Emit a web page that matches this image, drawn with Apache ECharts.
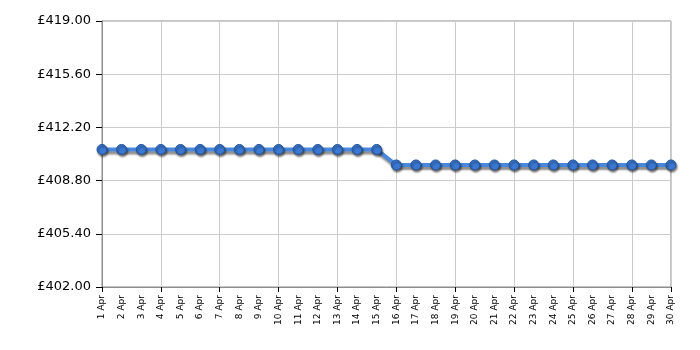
<!DOCTYPE html>
<html>
<head>
<meta charset="utf-8">
<script src="https://cdn.jsdelivr.net/npm/echarts@6/dist/echarts.min.js"></script>
<style>
  html, body { margin: 0; padding: 0; background: #fff; }
</style>
</head>
<body>
<div id="chart" style="width: 700px; height: 350px;"></div>
<script>
// days of April
const days = [
  '1 Apr', '2 Apr', '3 Apr', '4 Apr', '5 Apr', '6 Apr', '7 Apr', '8 Apr', '9 Apr', '10 Apr',
  '11 Apr', '12 Apr', '13 Apr', '14 Apr', '15 Apr', '16 Apr', '17 Apr', '18 Apr', '19 Apr', '20 Apr',
  '21 Apr', '22 Apr', '23 Apr', '24 Apr', '25 Apr', '26 Apr', '27 Apr', '28 Apr', '29 Apr', '30 Apr'
]
// price per day
const prices = [
  410.79, 410.79, 410.79, 410.79, 410.79, 410.79, 410.79, 410.79, 410.79, 410.79,
  410.79, 410.79, 410.79, 410.79, 410.79, 409.80, 409.80, 409.80, 409.80, 409.80,
  409.80, 409.80, 409.80, 409.80, 409.80, 409.80, 409.80, 409.80, 409.80, 409.80
]
const yMin = 402
const yMax = 419
const yStep = 3.4

const chart = echarts.init(document.getElementById('chart'))
chart.setOption({
  animation: false,
  grid: { left: 102, right: 29, top: 21, bottom: 63, show: true, borderColor: '#8c8c8c', borderWidth: 1 },
  xAxis: {
    type: 'category',
    data: days,
    boundaryGap: false,
    axisLine: { lineStyle: { color: '#8c8c8c', width: 1 } },
    axisTick: { interval: 2, length: 5, lineStyle: { color: '#000' } },
    splitLine: { show: true, interval: 2, lineStyle: { color: '#cccccc' } },
    axisLabel: {
      interval: 0, rotate: 90, fontSize: 9, color: '#000', margin: 8,
      fontFamily: 'DejaVu Sans'
    }
  },
  yAxis: {
    type: 'value',
    min: yMin,
    max: yMax,
    interval: yStep,
    axisLine: { show: true, lineStyle: { color: '#8c8c8c' } },
    axisTick: { show: true, length: 6, lineStyle: { color: '#000' } },
    splitLine: { lineStyle: { color: '#cccccc' } },
    axisLabel: {
      fontSize: 13, color: '#000', margin: 11, fontFamily: 'DejaVu Sans',
      formatter: v => '£' + v.toFixed(2)
    }
  },
  series: [{
    type: 'line',
    data: prices,
    symbol: 'circle',
    symbolSize: 10,
    lineStyle: {
      color: '#4a88dc', width: 4,
      shadowColor: 'rgba(0,0,0,0.45)', shadowOffsetX: 1, shadowOffsetY: 3, shadowBlur: 2
    },
    itemStyle: {
      color: '#3a78d2', borderColor: '#24539a', borderWidth: 1,
      shadowColor: 'rgba(0,0,0,0.5)', shadowOffsetX: 1, shadowOffsetY: 2, shadowBlur: 2
    }
  }]
})
</script>
</body>
</html>
